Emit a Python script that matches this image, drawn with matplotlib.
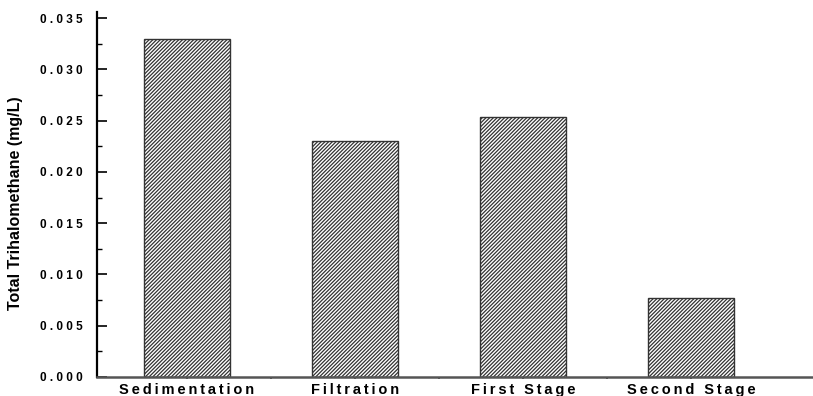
import numpy as np
import matplotlib
matplotlib.use("Agg")
import matplotlib.pyplot as plt
from matplotlib.ticker import MultipleLocator, FixedLocator

# THM concentration after each treatment step
stages = ["Sedimentation", "Filtration", "First Stage", "Second Stage"]
thm = [0.0330, 0.0230, 0.0254, 0.0077]
y_ticks = [0.000, 0.005, 0.010, 0.015, 0.020, 0.025, 0.030, 0.035]


def spaced(s, sep=" "):
    # wide letter spacing like the old plotting package
    return sep.join(s)


plt.rcParams["font.family"] = ["Liberation Sans", "DejaVu Sans"]
plt.rcParams["font.weight"] = "bold"
plt.rcParams["hatch.linewidth"] = 0.9
plt.rcParams["hatch.color"] = "#222222"

fig = plt.figure(figsize=(8.13, 3.96), dpi=100)
ax = fig.add_axes([0.1193, 0.048, 0.8807, 0.9217])

x = np.arange(len(stages))
ax.bar(x, thm, width=0.51, color="white", edgecolor="#333333",
       linewidth=1.0, hatch="/////////")

ax.set_xlim(-0.536, 3.726)
ax.set_ylim(0, 0.0356)

ax.spines["top"].set_visible(False)
ax.spines["right"].set_visible(False)
ax.spines["left"].set_linewidth(1.6)
ax.spines["left"].set_color("black")
ax.spines["bottom"].set_linewidth(1.8)
ax.spines["bottom"].set_color("#555555")

ax.set_yticks(y_ticks)
ax.set_yticklabels([spaced(f"{v:.3f}") for v in y_ticks], fontsize=8.5, fontweight="bold")
ax.yaxis.set_minor_locator(MultipleLocator(0.0025))
ax.tick_params(axis="y", which="major", direction="in", length=7.5, width=1.2, pad=10)
ax.tick_params(axis="y", which="minor", direction="in", length=3.8, width=1.0)

ax.set_xticks(x)
ax.set_xticklabels([spaced(s, "\u2009") for s in stages], fontsize=10.5, fontweight="bold")
ax.xaxis.set_minor_locator(FixedLocator(x[:-1] + 0.5))
ax.tick_params(axis="x", which="both", direction="out", length=1.5, width=1.2, pad=3,
               color="#333333")

ax.set_ylabel("Total Trihalomethane (mg/L)", fontsize=11.5, fontweight="bold")
ax.yaxis.set_label_coords(-0.103, 0.477)

fig.savefig("out.png", dpi=100)
